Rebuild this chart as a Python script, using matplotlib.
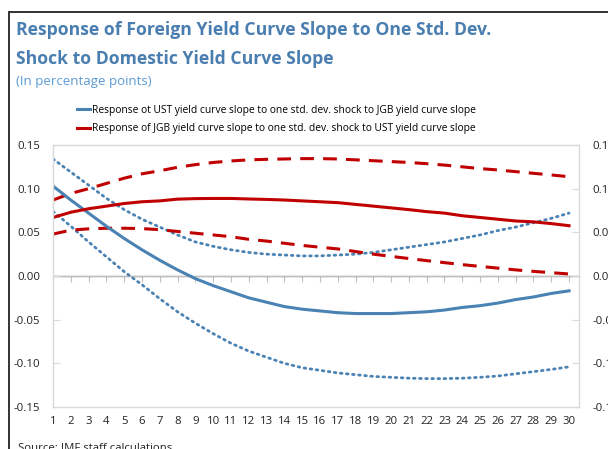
import matplotlib
matplotlib.use("Agg")
import matplotlib.pyplot as plt
from matplotlib.patches import Rectangle

plt.rcParams['font.family'] = ['Open Sans', 'DejaVu Sans']

horizon = list(range(1, 31))

ust_resp = [0.103, 0.087, 0.072, 0.057, 0.043, 0.030, 0.018, 0.007, -0.003, -0.011,
            -0.018, -0.025, -0.030, -0.035, -0.038, -0.040, -0.042, -0.043, -0.043, -0.043,
            -0.042, -0.041, -0.039, -0.036, -0.034, -0.031, -0.027, -0.024, -0.020, -0.017]
ust_upper = [0.134, 0.119, 0.104, 0.089, 0.076, 0.065, 0.056, 0.047, 0.039, 0.034,
             0.030, 0.027, 0.025, 0.024, 0.023, 0.023, 0.024, 0.025, 0.027, 0.030,
             0.033, 0.036, 0.039, 0.043, 0.047, 0.052, 0.056, 0.061, 0.066, 0.072]
ust_lower = [0.074, 0.057, 0.039, 0.022, 0.005, -0.010, -0.026, -0.041, -0.054, -0.066,
             -0.077, -0.086, -0.093, -0.100, -0.105, -0.108, -0.111, -0.113, -0.115, -0.116,
             -0.117, -0.1175, -0.1175, -0.117, -0.116, -0.1145, -0.112, -0.1095, -0.107, -0.104]

jgb_resp = [0.067, 0.073, 0.077, 0.080, 0.083, 0.085, 0.086, 0.088, 0.0886, 0.0888,
            0.0888, 0.0882, 0.0877, 0.0870, 0.086, 0.085, 0.084, 0.082, 0.080, 0.078,
            0.076, 0.0737, 0.072, 0.069, 0.067, 0.065, 0.063, 0.062, 0.060, 0.0576]
jgb_upper = [0.087, 0.0945, 0.100, 0.106, 0.112, 0.117, 0.1205, 0.1245, 0.1275, 0.130,
             0.1317, 0.133, 0.1336, 0.134, 0.1344, 0.1344, 0.134, 0.133, 0.132, 0.131,
             0.130, 0.1286, 0.127, 0.125, 0.123, 0.1214, 0.1195, 0.1176, 0.1157, 0.1137]
jgb_lower = [0.048, 0.0525, 0.054, 0.0547, 0.0547, 0.0543, 0.053, 0.051, 0.049, 0.047,
             0.045, 0.042, 0.040, 0.0375, 0.035, 0.033, 0.031, 0.028, 0.025, 0.0225,
             0.020, 0.0176, 0.0153, 0.013, 0.011, 0.009, 0.007, 0.0053, 0.0038, 0.0023]

yticks = [-0.15, -0.10, -0.05, 0.00, 0.05, 0.10, 0.15]
ytick_labels = ["-0.15", "-0.10", "-0.05", "0.00", "0.05", "0.10", "0.15"]

title = "Response of Foreign Yield Curve Slope to One Std. Dev.\nShock to Domestic Yield Curve Slope"
subtitle = "(In percentage points)"
leg_ust = "Response ot UST yield curve slope to one std. dev. shock to JGB yield curve slope"
leg_jgb = "Response of JGB yield curve slope to one std. dev. shock to UST yield curve slope"
source = "Source: IMF staff calculations"

BLUE = "#4a82b4"
RED = "#c00000"
TITLE_C = "#4a7eb0"
GRID = "#d9d9d9"

fig = plt.figure(figsize=(6.08, 4.49), dpi=100)
ax = fig.add_axes([53/608, 1-407/449, (579-53)/608, (407-145)/449])

ax.axhline(0, color="#bfbfbf", lw=1.0, zorder=1)

ax.plot(horizon, ust_upper, color=BLUE, lw=2.0, ls=(0, (0.6, 1.6)), dash_capstyle='round')
ax.plot(horizon, ust_lower, color=BLUE, lw=2.0, ls=(0, (0.6, 1.6)), dash_capstyle='round')
ax.plot(horizon, jgb_upper, color=RED, lw=2.2, ls=(0, (4.5, 3)))
ax.plot(horizon, jgb_lower, color=RED, lw=2.2, ls=(0, (4.5, 3)))
l1, = ax.plot(horizon, ust_resp, color=BLUE, lw=2.2, label=leg_ust)
l2, = ax.plot(horizon, jgb_resp, color=RED, lw=2.2, label=leg_jgb)

ax.set_ylim(-0.15, 0.15)
ax.set_xlim(1, 30.56)
ax.set_xticks(horizon)
ax.set_xticklabels([str(h) for h in horizon], fontsize=8.2, color="#222222")
ax.tick_params(axis='x', length=0, pad=6.5)
ax.set_yticks(yticks)
ax.set_yticklabels(ytick_labels, fontsize=8.2, color="#222222")
ax.tick_params(axis='y', direction='in', length=5, color=GRID, pad=9.4,
               left=True, right=True, labelleft=True, labelright=True)
for s in ax.spines.values():
    s.set_color(GRID)
    s.set_linewidth(1.0)

sec = ax.secondary_xaxis(0.5)
sec.set_xticks(horizon)
sec.tick_params(direction='in', length=4, color="#bfbfbf", labelbottom=False, labeltop=False)
sec.spines['bottom'].set_visible(False)

fig.legend(handles=[l1, l2], loc='upper left', bbox_to_anchor=(77/608, 1-105/449),
           frameon=False, fontsize=7.4, handlelength=1.3, handletextpad=0.15,
           labelspacing=0.7, borderaxespad=0, borderpad=0)

fig.text(16/608, 1-21/449, title, fontsize=12.7, fontweight='bold', color=TITLE_C,
         va='top', ha='left', linespacing=1.8)
fig.text(16/608, 1-81/449, subtitle, fontsize=9.5, color="#5b9bd5", va='center', ha='left')
fig.text(18/608, 1-443/449, source, fontsize=8.2, color="#222222", va='top', ha='left')

fig.patches.append(Rectangle((9/608, -0.1), 1.2, 1-12/449+0.1, transform=fig.transFigure,
                             fill=False, edgecolor="#333333", lw=1.4))

fig.savefig("out.png", dpi=100)
